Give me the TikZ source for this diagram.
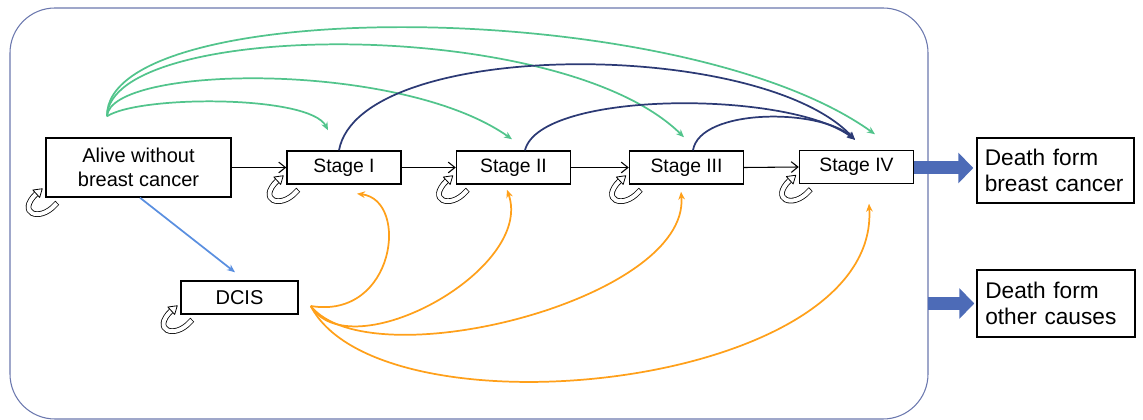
\documentclass[tikz,border=0pt]{standalone}
\usepackage{fontspec}
\setmainfont{Liberation Sans}
\usetikzlibrary{arrows.meta,calc}

\definecolor{framec}{HTML}{6B78AE}
\definecolor{mint}{HTML}{52C48C}
\definecolor{navy}{HTML}{2C3A75}
\definecolor{amber}{HTML}{FFA01A}
\definecolor{sky}{HTML}{5A8FE0}
\definecolor{blockc}{HTML}{4D6BB7}

\tikzset{
  box/.style={draw=black, line width=1.1pt, inner sep=2pt, align=center,
    font=\fontsize{14.5}{17.5}\selectfont},
  stagebox/.style={box, minimum width=85.5pt, minimum height=24.75pt},
  deathbox/.style={box, align=left, font=\fontsize{17}{20}\selectfont},
  steparrow/.style={-{Straight Barb[length=5pt,width=8pt]}, line width=0.8pt},
  arc/.style={-{Stealth[length=6pt,width=5pt]}, line width=1.3pt},
  greenarc/.style={arc, draw=mint},
  navyarc/.style={arc, draw=navy},
  orangearc/.style={arc, draw=amber},
  exitarrow/.style={draw=blockc, line width=9.75pt,
    -{Triangle[length=11.25pt,width=22.5pt]}},
  pics/loopback/.style={code={
    \draw[line width=0.6pt, double=white, double distance=3pt, line cap=rect]
      (13,16) .. controls (-3,34) and (-26,24) .. (-6,5);
    \draw[line width=0.6pt, fill=white, line join=round]
      (-2.6,8.7) -- (0,0) -- (-9.4,1.3) -- cycle;
  }}
}

\begin{document}
\begin{tikzpicture}[x=0.75pt, y=-0.75pt]
\useasboundingbox (0,0) rectangle (1143,420);

% outer frame
\draw[framec, line width=0.8pt, rounded corners=33.75pt] (10,8) rectangle (928,419);

% states
\node[box, minimum width=138.75pt, minimum height=44.25pt, font=\fontsize{15}{17.5}\selectfont]
  (alive) at (138.5,167.5) {Alive without\\breast cancer};
\node[stagebox] (s1) at (344,167.5) {Stage I};
\node[stagebox] (s2) at (513.5,167.5) {Stage II};
\node[stagebox] (s3) at (686.5,167.5) {Stage III};
\node[stagebox] (s4) at (856.5,167) {Stage IV};
\node[stagebox, minimum width=87.75pt, font=\fontsize{15}{17.5}\selectfont]
  (dcis) at (239.5,297.5) {DCIS};
\node[deathbox, minimum width=117.75pt, minimum height=48.75pt, text width=106pt, inner xsep=5pt]
  (db) at (1055.5,170.5) {Death form\\breast cancer};
\node[deathbox, minimum width=118.5pt, minimum height=50.25pt, text width=106pt, inner xsep=5pt]
  (do) at (1056,303.5) {Death form\\other causes};

% self transitions
\foreach \n in {alive,s1,s2,s3,s4,dcis}
  \pic at ($(\n.south west)+(-3,-9)$) {loopback};

% progression between stages
\draw[steparrow] (alive.east) -- (alive.east -| s1.west);
\draw[steparrow] (s1.east) -- (s2.west);
\draw[steparrow] (s2.east) -- (s3.west);
\draw[steparrow] (s3.east) -- (s4.west);

% onset from the healthy state
\coordinate (g0) at ($(alive.north)+(-31.5,-21)$);
\coordinate (g1) at ($(s1.north)+(-16,-20)$);
\coordinate (g2) at ($(s2.north)+(-1.5,-11)$);
\coordinate (g3) at ($(s3.north)+(-2.5,-13)$);
\coordinate (g4) at ($(s4.north)+(18.5,-15.5)$);
\draw[greenarc] (g0) .. controls (140,95) and (310,95) .. (g1);
\draw[greenarc] (g0) .. controls (110,65) and (400,60) .. (g2);
\draw[greenarc] (g0) .. controls (110,20) and (560,15) .. (g3);
\draw[greenarc] (g0) .. controls (105,-5) and (680,-5) .. (g4);

% progression to stage IV
\coordinate (n4) at ($(s4.north)+(-1.5,-10)$);
\draw[navyarc] ($(s1.north)+(-5,0)$) .. controls (360,38) and (760,38) .. (n4);
\draw[navyarc] ($(s2.north)+(11.5,0)$) .. controls (540,90) and (790,90) .. (n4);
\draw[navyarc] ($(s3.north)+(6.5,0)$) .. controls (700,108) and (820,108) .. (n4);

% from DCIS to invasive stages
\coordinate (d0) at ($(dcis.east)+(12,8.5)$);
\draw[orangearc] (d0) .. controls (395,320) and (410,200) .. ($(s1.south)+(13,9)$);
\draw[orangearc] (d0) .. controls (350,370) and (535,270) .. ($(s2.south)+(-6.5,5)$);
\draw[orangearc] (d0) .. controls (370,380) and (690,300) .. ($(s3.south)+(-5.5,7)$);
\draw[orangearc] (d0) .. controls (380,440) and (880,390) .. ($(s4.south)+(12.5,19.5)$);

% healthy to DCIS
\draw[arc, draw=sky] ($(alive.south)+(1.5,0)$) -- ($(dcis.north)+(-4.5,-8)$);

% exits
\draw[exitarrow] (s4.east |- 0,168) -- ($(db.west |- 0,168)+(-3,0)$);
\coordinate (exitpt) at (928,303.5);
\draw[exitarrow] (exitpt) -- ($(do.west)+(-2,0)$);
\end{tikzpicture}
\end{document}
